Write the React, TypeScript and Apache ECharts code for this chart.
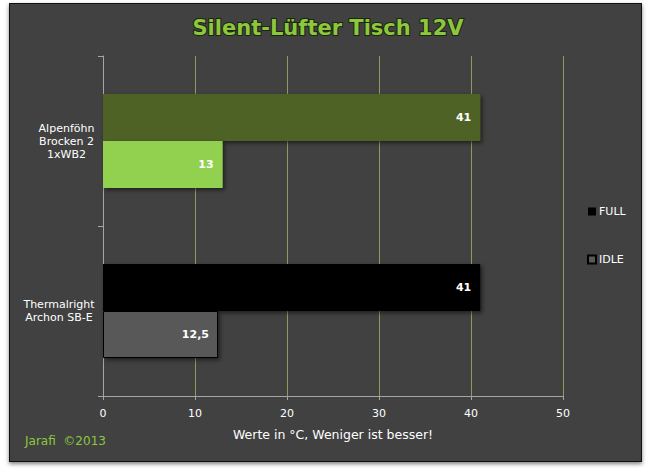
import React, { useEffect, useRef } from "react";
import * as echarts from "echarts";

const categories = ["Alpenföhn\nBrocken 2\n1xWB2", "Thermalright\nArchon SB-E"];
const fullValues = [41, 41];
const idleValues = [13, 12.5];
const fullColors = ["#4f6228", "#000000"];
const idleColors = ["#92d050", "#595959"];

const FONT = "DejaVu Sans";

export default function App() {
  const ref = useRef<HTMLDivElement>(null);
  useEffect(() => {
    if (!ref.current) return;
    const chart = echarts.init(ref.current, undefined, { renderer: "svg" });
    const shadow = {
      shadowBlur: 4,
      shadowOffsetX: 2,
      shadowOffsetY: 2,
      shadowColor: "rgba(0,0,0,0.55)",
    };
    const label = {
      show: true,
      position: "insideRight",
      distance: 9,
      color: "#ffffff",
      fontFamily: FONT,
      fontWeight: "bold",
      fontSize: 11,
      formatter: (p: any) => String(p.value).replace(".", ","),
    };
    const catStyle = {
      color: "#ffffff",
      fontFamily: FONT,
      fontSize: 11,
      lineHeight: 13,
      align: "center",
    };
    chart.setOption({
      animation: false,
      backgroundColor: "transparent",
      title: {
        text: "Silent-Lüfter Tisch 12V",
        left: 323,
        textAlign: "center",
        top: 12,
        textStyle: {
          fontFamily: FONT,
          fontSize: 21,
          fontWeight: "bold",
          color: "#8cc83c",
          textBorderColor: "#1e2410",
          textBorderWidth: 2,
        },
      },
      legend: {
        orient: "vertical",
        left: 582,
        top: 201,
        itemWidth: 8,
        itemHeight: 8,
        itemGap: 37,
        icon: "rect",
        textStyle: { color: "#ffffff", fontFamily: FONT, fontSize: 11, padding: [0, 0, 0, -2] },
        data: ["FULL", "IDLE"],
      },
      graphic: [
        {
          type: "text",
          left: 25,
          top: 435,
          style: { text: "Jarafi  ©2013", fill: "#8cc83c", font: `12px "${FONT}"` },
        },
      ],
      grid: { left: 103, right: 85, top: 56, bottom: 74, containLabel: false },
      xAxis: {
        type: "value",
        min: 0,
        max: 50,
        interval: 10,
        name: "Werte in °C, Weniger ist besser!",
        nameLocation: "middle",
        nameGap: 32,
        nameTextStyle: { color: "#ffffff", fontFamily: FONT, fontSize: 12.5 },
        axisLine: { show: true, lineStyle: { color: "#a6a6a6", width: 1 } },
        axisTick: { show: true, length: 4, lineStyle: { color: "#a6a6a6" } },
        axisLabel: { color: "#ffffff", fontFamily: FONT, fontSize: 11, margin: 12 },
        splitLine: { show: true, lineStyle: { color: ["#8c9c5c"], width: 1 } },
      },
      yAxis: {
        type: "category",
        inverse: true,
        data: categories,
        axisLine: { show: true, lineStyle: { color: "#a6a6a6", width: 1 } },
        axisTick: { show: true, length: 5, lineStyle: { color: "#a6a6a6" } },
        axisLabel: {
          color: "#ffffff",
          fontFamily: FONT,
          fontSize: 11,
          lineHeight: 13,
          margin: 9,
          align: "right",
          formatter: (v: string, i: number) => `{c${i}|${v}}`,
          rich: {
            c0: { ...catStyle, width: 55 },
            c1: { ...catStyle, width: 70 },
          },
        },
        splitLine: { show: false },
      },
      series: [
        {
          name: "FULL",
          type: "bar",
          barWidth: 47,
          barGap: "0%",
          itemStyle: { color: "#000000", borderColor: "#000000", borderWidth: 0, ...shadow },
          label,
          data: fullValues.map((v, i) => ({ value: v, itemStyle: { color: fullColors[i] } })),
        },
        {
          name: "IDLE",
          type: "bar",
          barWidth: 47,
          barGap: "0%",
          itemStyle: { color: "#595959", borderColor: "#000000", borderWidth: 1, ...shadow },
          label,
          data: idleValues.map((v, i) => ({
            value: v,
            itemStyle: { color: idleColors[i], borderWidth: i === 1 ? 1 : 0 },
          })),
        },
      ],
    });
    return () => chart.dispose();
  }, []);

  return (
    <div style={{ position: "absolute", left: 0, top: 0, width: 648, height: 470, background: "#ffffff" }}>
      <div
        style={{
          position: "absolute",
          left: 9,
          top: 3,
          width: 633,
          height: 459,
          boxSizing: "border-box",
          background: "#414141",
          border: "1px solid #111111",
          boxShadow: "0 2px 4px rgba(0,0,0,0.5)",
        }}
      />
      <div ref={ref} style={{ position: "absolute", left: 0, top: 0, width: 648, height: 470 }} />
    </div>
  );
}
